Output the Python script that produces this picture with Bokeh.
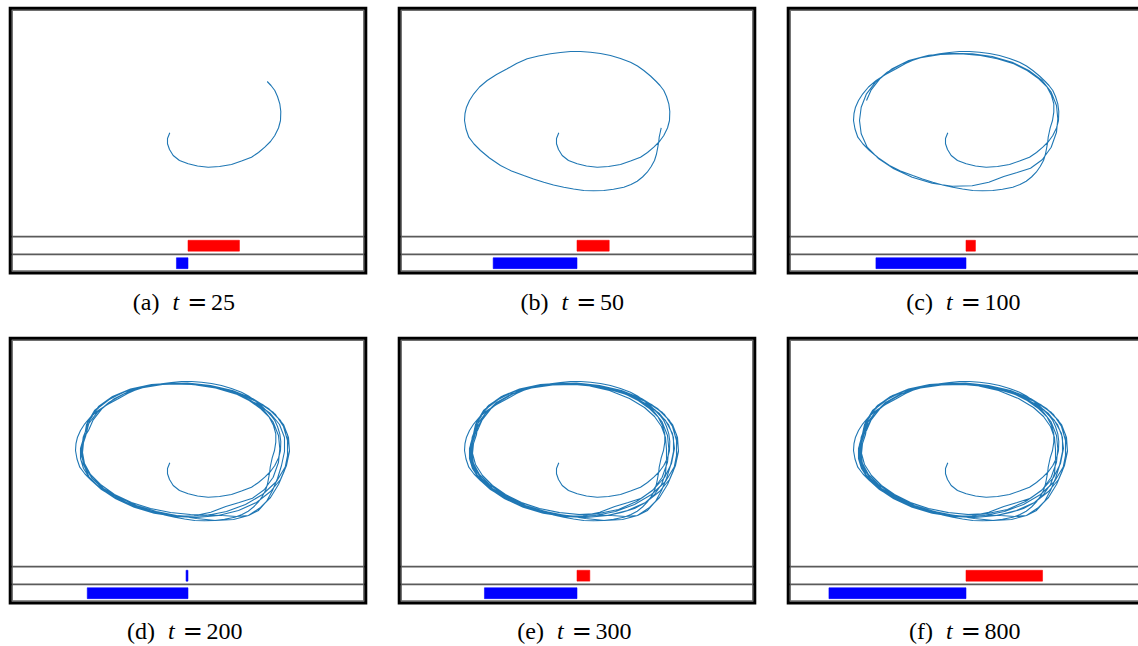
from bokeh.plotting import figure
from bokeh.layouts import column, row
from bokeh.models import Range1d
from bokeh.core.properties import value
from bokeh.embed import file_html
from bokeh.resources import INLINE

# ---------------- data ----------------
panel_letters = ["a", "b", "c", "d", "e", "f"]
panel_times = ["25", "50", "100", "200", "300", "800"]

# signed values shown in the two strips under each phase portrait
bar_top = [0.289, 0.181, 0.053, -0.011, 0.072, 0.43]
bar_bottom = [-0.065, -0.471, -0.506, -0.566, -0.52, -0.77]

# trajectory pieces (x, y)
seg_a = [(-10.7, -12.3), (-13, -18), (-13, -23.3), (-11, -29), (-7.3, -35), (-1, -40),
         (7.7, -43.3), (17, -45.5), (27.7, -46.7), (39, -46), (51, -44), (61, -40.5),
         (71, -36.7), (78, -32), (84.3, -26.7), (90, -21), (94.3, -15), (98, -7.5),
         (100, 0), (100.3, 9), (99.3, 16.7), (97, 24), (94.3, 30), (90.5, 35), (86.7, 39)]

seg_b = [(81, 44.5), (74.3, 50), (68, 54.5), (61, 58.3), (51, 62), (41, 65), (31, 67),
         (21, 68.3), (11, 69), (1, 69), (-9, 68), (-19, 66.7), (-31, 64.5), (-42.3, 61.7),
         (-53, 57), (-62.3, 51.7), (-73, 46), (-82.3, 40), (-90, 33.5), (-95.7, 26.7),
         (-100, 20), (-103, 13.3), (-104.5, 7), (-105, 0), (-103.5, -8.5), (-100.7, -16.7),
         (-95.5, -23.5), (-89, -30), (-80, -37.5), (-69, -45), (-58, -50.5), (-45.7, -55),
         (-36, -58.5), (-25.7, -61.7), (-16, -64.5), (-5.7, -66.7), (4, -68.5), (14.3, -70),
         (24, -70.3), (34.3, -70), (44, -68.8), (54.3, -66.7), (61.5, -64), (67.7, -60.7),
         (73, -56.5), (77.7, -51.7), (81.7, -46), (85, -40), (87, -33.5), (88.3, -26.7),
         (89.2, -21.5), (89.7, -16.7), (90.7, -12), (91.7, -7.3)]

seg_c = [(94, 0), (95.3, 8.3), (95.3, 16.7), (93, 25), (88.7, 33.3), (80.3, 41.7), (68.7, 50),
         (55.3, 56.7), (38.7, 61.7), (22, 65), (2, 66.7), (-18, 66), (-38, 62.7), (-56.3, 56.7),
         (-71.3, 48.3), (-83, 38.3), (-92, 26.7), (-97.3, 13.3), (-99, 0), (-97.3, -13.3),
         (-91.3, -26.7), (-79.7, -38.3), (-64.7, -48.3), (-46.3, -56.7), (-26.3, -62.7),
         (-6.3, -65.7), (13.7, -65.3), (30.3, -61.7), (45.3, -56), (58.7, -52), (72, -47.7),
         (83.7, -39.3), (92.7, -26.7), (98, -11.7), (99.3, 1.7), (98, 15), (92.7, 28.3),
         (83.7, 40), (70.3, 50), (53.7, 58.3), (33.7, 64), (13.7, 66.7), (-8, 67.3),
         (-29.7, 65.3), (-49.7, 60), (-66.3, 51.7), (-78.7, 41.7), (-87.3, 30.7), (-92, 20)]

# loops around the limit cycle
loop_v1 = [(-95, 14), (-98, 5), (-99, -5), (-96, -16), (-89, -27), (-79, -37), (-66, -46),
           (-50, -54), (-32, -60), (-14, -64), (6, -66), (26, -65), (46, -61), (65, -54),
           (82, -44), (96, -31), (105, -16), (109, 0), (107, 16), (100, 30), (88, 42),
           (72, 52), (52, 60), (30, 65), (7, 67.5), (-16, 67), (-38, 64), (-58, 58),
           (-75, 49), (-87, 38), (-94, 26)]
loop_v2 = [(-97, 12), (-100, 2), (-100, -8), (-97, -18), (-90, -29), (-79, -39), (-64, -48),
           (-46, -56), (-26, -62), (-5, -66), (16, -67), (38, -65), (58, -60), (76, -52),
           (90, -41), (100, -29), (106, -15), (109, -1), (108, 13), (103, 26), (93, 38),
           (78, 48), (58, 57), (35, 63), (11, 67), (-13, 67), (-36, 64.5), (-56, 59),
           (-73, 50.5), (-86, 40), (-93, 28)]
loop_v3 = [(-96, 16), (-99, 6), (-100, -4), (-98, -14), (-92, -25), (-82, -35), (-69, -44),
           (-53, -52), (-35, -58), (-16, -63), (4, -66), (22, -66.5), (38, -65), (52, -62),
           (65, -58), (76, -52), (85, -44), (92, -34), (96, -23), (97, -11), (97, 1),
           (96, 13), (92, 24), (85, 34), (75, 43), (60, 52), (40, 60), (18, 65), (-4, 67),
           (-26, 66), (-47, 62), (-66, 55), (-81, 45), (-90, 33)]
loop_v4 = [(-94, 18), (-97, 8), (-98, -2), (-96, -13), (-90, -24), (-80, -34), (-66, -44),
           (-49, -52), (-30, -58), (-10, -62), (10, -64), (28, -64.5), (42, -65), (56, -66),
           (68, -65), (78, -60), (86, -51), (92, -40), (97, -28), (101, -15), (104, -1),
           (104, 13), (99, 26), (90, 37), (76, 47), (57, 56), (35, 62.5), (12, 66),
           (-11, 66.5), (-33, 65), (-53, 60), (-70, 52), (-83, 42), (-91, 30)]
loop_v5 = [(-93, 16), (-96, 7), (-97, -3), (-94, -14), (-87, -25), (-77, -35), (-64, -44),
           (-48, -52), (-30, -58), (-11, -62), (9, -64), (29, -63), (49, -59), (67, -51),
           (83, -40), (95, -27), (102, -13), (105, 2), (103, 17), (96, 30), (85, 41),
           (69, 51), (49, 59), (27, 64), (5, 66), (-17, 65.5), (-38, 62.5), (-57, 57),
           (-73, 48), (-84, 37), (-91, 25)]
loop_v6 = [(-96, 14), (-99, 4), (-99, -6), (-95, -17), (-88, -28), (-77, -38), (-62, -47),
           (-44, -55), (-24, -61), (-4, -65), (16, -68), (35, -70), (53, -69), (68, -65),
           (80, -57), (90, -47), (98, -34), (104, -20), (107, -5), (107, 10), (103, 24),
           (95, 36), (82, 46), (64, 55), (42, 62), (18, 66), (-6, 67.5), (-29, 66),
           (-50, 61.5), (-68, 54), (-82, 44), (-91, 31)]

loops = {"v1": loop_v1, "v2": loop_v2, "v3": loop_v3, "v4": loop_v4, "v5": loop_v5, "v6": loop_v6}
seq_d = ["v2", "v4", "v1", "v6"]
seq_e = ["v5", "v3", "v1", "v2"]
seq_f = ["v1", "v5", "v2", "v4", "v1", "v3", "v5", "v6",
         "v1", "v2", "v5", "v4", "v1", "v3", "v5", "v2"]

pieces = [seg_a, seg_b, seg_c,
          [pt for k in seq_d for pt in loops[k]],
          [pt for k in seq_e for pt in loops[k]],
          [pt for k in seq_f for pt in loops[k]]]

# ---------------- styling ----------------
LINE_COLOR = "#1f77b4"
COL_W = [389, 389, 360]
ROW_H = [330, 316]
CAP_BASE = [301.5, 300.5]
T = 7.7           # top of panel box (px)
BOX_L, BOX_R = 9.7, 365.3
BOX_H = 264.8
CX = 187.5        # panel centre (px)


def make_panel(i):
    r, c = divmod(i, 3)
    W, H = COL_W[c], ROW_H[r]
    p = figure(width=W, height=H, output_backend="svg", toolbar_location=None,
               x_range=Range1d(0, W), y_range=Range1d(H, 0),
               x_axis_location=None, y_axis_location=None, min_border=0)
    p.min_border_left = p.min_border_right = p.min_border_top = p.min_border_bottom = 0
    p.outline_line_color = None
    p.grid.visible = False
    p.background_fill_color = "white"
    p.border_fill_color = "white"

    p.extra_x_ranges = {"traj": Range1d(-180, W - 180),
                        "bar": Range1d(-CX / 178.0, (W - CX) / 178.0)}
    p.extra_y_ranges = {"traj": Range1d(120 - H, 120),
                        "strip": Range1d((262.7 - H) / 17.5, 262.7 / 17.5)}

    top, bot = T, T + BOX_H
    # inner grey frame and strip separators
    g = 2.1
    p.quad(left=[BOX_L + g], right=[BOX_R - g], top=[top + g], bottom=[bot - g],
           fill_color=None, line_color="#6e6e6e", line_width=1.3)
    for s in (T + 228.5, T + 246.1):
        p.segment(x0=[BOX_L], x1=[BOX_R], y0=[s], y1=[s], line_color="#5a5a5a", line_width=1.7)

    # strip bars
    vals = [bar_top[i], bar_bottom[i]]
    cols = ["#ff0000" if v > 0 else "#0000ff" for v in vals]
    p.hbar(y=[1, 0], left=[0, 0], right=vals, height=0.62, fill_color=cols,
           line_color=cols, line_alpha=0.55, line_width=1,
           x_range_name="bar", y_range_name="strip")

    # trajectory up to this panel's time
    pts = [pt for piece in pieces[:i + 1] for pt in piece]
    p.line([q[0] for q in pts], [q[1] for q in pts], line_color=LINE_COLOR,
           line_width=1.1, x_range_name="traj", y_range_name="traj")

    # outer black frame
    p.quad(left=[BOX_L], right=[BOX_R], top=[top], bottom=[bot], fill_color=None,
           line_color="black", line_width=3, line_join="miter")

    # caption "(x) t = N"
    n = len(panel_times[i])
    eq = CX + 9.4 - 4.5 * (n - 2)
    yb = CAP_BASE[r]
    common = dict(text_baseline="alphabetic", text_color="black", text_font_size="24px")
    p.text(x=[eq - 38], y=[yb], text=["(" + panel_letters[i] + ")"], text_align="right",
           text_font=value("Liberation Serif"), **common)
    p.text(x=[eq - 21.5], y=[yb], text=["t"], text_align="center", text_font_style="italic",
           text_font=value("Liberation Serif"), **common)
    p.text(x=[eq], y=[yb], text=["="], text_align="center",
           text_font=value("DejaVu Serif"), **common)
    p.text(x=[eq + 13.5], y=[yb], text=[panel_times[i]], text_align="left",
           text_font=value("Liberation Serif"), **common)
    return p


figs = [make_panel(i) for i in range(6)]
layout = column(row(*figs[:3]), row(*figs[3:]))
open("out.html", "w").write(file_html(layout, INLINE))
